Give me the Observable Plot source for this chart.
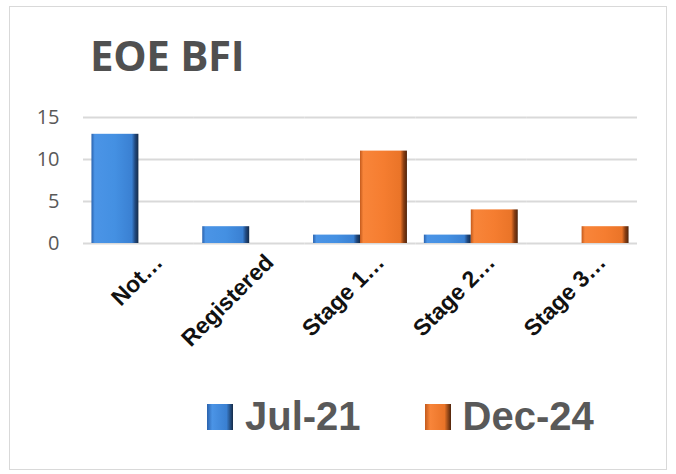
<!DOCTYPE html>
<html>
<head>
<meta charset="utf-8">
<script src="https://cdn.jsdelivr.net/npm/d3@7"></script>
<script src="https://cdn.jsdelivr.net/npm/@observablehq/plot@0.6"></script>
<style>
  html, body { margin: 0; padding: 0; background: #fff; }
  body { width: 676px; height: 474px; position: relative; overflow: hidden; font-family: "Liberation Sans", Arial, sans-serif; }
  #frame { position: absolute; left: 9px; top: 6px; width: 658px; height: 464px; border: 1.5px solid #d9d9d9; box-sizing: border-box; }
  #title { position: absolute; left: 90px; top: 34px; font-family: "Open Sans", sans-serif; font-weight: 700; font-size: 42px; color: #505050; line-height: 1; letter-spacing: -0.3px; }
  #chart { position: absolute; left: 0; top: 100px; }
  #legend { position: absolute; top: 394px; left: 207px; display: flex; align-items: center; font-family: "Liberation Sans", Arial, sans-serif; font-weight: 700; font-size: 40px; color: #595959; }
  .sw { width: 26px; height: 26px; display: inline-block; margin-right: 12px; }
  .item { display: flex; align-items: center; }
</style>
</head>
<body>
<div id="frame"></div>
<div id="title">EOE BFI</div>
<div id="chart"></div>
<div id="legend"></div>
<script>
const categories = ["Not…", "Registered", "Stage 1…", "Stage 2…", "Stage 3…"];
const series = ["Jul-21", "Dec-24"];
const jul21 = [13, 2, 1, 1, 0];
const dec24 = [0, 0, 11, 4, 2];
const yTicks = [0, 5, 10, 15];

const data = [];
categories.forEach((c, i) => {
  if (jul21[i] > 0) data.push({category: c, series: series[0], value: jul21[i]});
  if (dec24[i] > 0) data.push({category: c, series: series[1], value: dec24[i]});
});

const plot = Plot.plot({
  width: 676,
  height: 280,
  marginTop: 17,
  marginBottom: 137,
  marginLeft: 83,
  marginRight: 39,
  style: {background: "transparent", overflow: "visible", fontFamily: "'Open Sans', sans-serif"},
  fx: {domain: categories, padding: 0, label: null, round: false},
  x: {domain: series, paddingInner: 0, paddingOuter: 0.18, axis: null, round: false},
  y: {domain: [0, 15], ticks: yTicks, label: null},
  color: {domain: series, range: ["url(#gBlue)", "url(#gOrange)"]},
  marks: [
    Plot.ruleY(yTicks, {stroke: "#d9d9d9", strokeWidth: 1.8, strokeOpacity: 1}),
    Plot.barY(data, {fx: "category", x: "series", y: "value", fill: "series"}),
    Plot.axisY({ticks: yTicks, tickSize: 0, tickPadding: 24, fontSize: 20, fill: "#595959", label: null}),
    Plot.axisFx({anchor: "bottom", tickSize: 0, tickPadding: 0, tickRotate: -45, textAnchor: "end",
      fontSize: 23, fontWeight: "bold", fontFamily: "'Liberation Sans', Arial, sans-serif", fill: "#111", dx: 20, dy: 15, label: null})
  ]
});

// 3D-style gradients for bars
const svg = d3.select(plot);
const defs = svg.insert("defs", ":first-child");
function grad(id, stops) {
  const g = defs.append("linearGradient").attr("id", id).attr("x1", "0").attr("x2", "1").attr("y1", "0").attr("y2", "0");
  stops.forEach(([o, c]) => g.append("stop").attr("offset", o).attr("stop-color", c));
}
grad("gBlue", [[0, "#2a62ad"], [0.07, "#4b94e6"], [0.5, "#4490e2"], [0.86, "#3a80d2"], [0.93, "#20487e"], [1, "#152b48"]]);
grad("gOrange", [[0, "#c35a1c"], [0.07, "#f8853a"], [0.5, "#f57d30"], [0.86, "#ea7428"], [0.93, "#8a3e12"], [1, "#4f240b"]]);
document.getElementById("chart").appendChild(plot);

const legend = document.getElementById("legend");
series.forEach((s, i) => {
  const it = document.createElement("div");
  it.className = "item";
  if (i > 0) it.style.marginLeft = "64px";
  const sw = document.createElement("span");
  sw.className = "sw";
  sw.style.background = i === 0
    ? "linear-gradient(90deg,#2a62ad,#4b94e6 20%,#3a80d2 75%,#152b48)"
    : "linear-gradient(90deg,#c35a1c,#f8853a 20%,#ea7428 75%,#4f240b)";
  const t = document.createElement("span");
  t.textContent = s;
  it.appendChild(sw); it.appendChild(t);
  legend.appendChild(it);
});
</script>
</body>
</html>
